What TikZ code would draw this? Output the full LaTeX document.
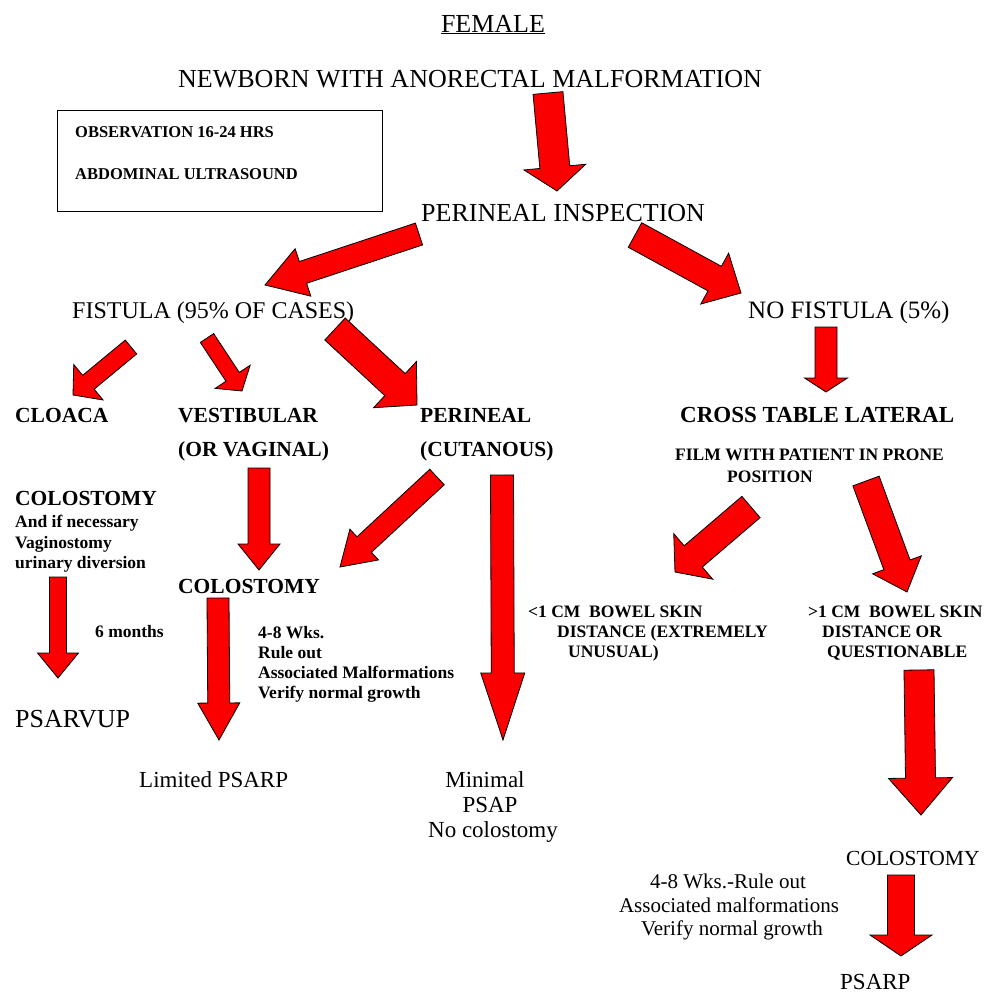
\documentclass[tikz,border=0pt]{standalone}
\usepackage{fontspec}
\setmainfont{Liberation Serif}
\usetikzlibrary{calc}
\definecolor{arrred}{RGB}{250,0,0}
\tikzset{
  barr/.style={fill=arrred, draw=black, line width=0.8pt, line join=miter},
  txt/.style={inner sep=0pt, anchor=base west},
  big/.style={txt, font=\fontsize{26}{30}\selectfont},
  f24/.style={txt, font=\fontsize{24}{28}\selectfont},
  hb/.style={txt, font=\fontsize{21.5}{25}\selectfont\bfseries},
  hbl/.style={txt, font=\fontsize{23}{27}\selectfont\bfseries},
  sb/.style={txt, font=\fontsize{17.5}{20}\selectfont\bfseries},
  boxb/.style={txt, font=\fontsize{16.5}{19}\selectfont\bfseries},
  reg/.style={txt, font=\fontsize{23}{27}\selectfont},
  note/.style={txt, anchor=base, font=\fontsize{21}{24}\selectfont},
  obsbox/.style={draw=black, line width=1pt, inner sep=0pt, anchor=north west,
    minimum width=325pt, minimum height=101pt}
}
\newcommand{\blkarrow}[5]{%
  \coordinate (hb) at ($(#2)!#5!(#1)$);
  \filldraw[barr] ($(#1)!#3!90:(#2)$) -- ($(hb)!#3!90:(#2)$) -- ($(hb)!#4!90:(#2)$)
    -- (#2) -- ($(hb)!#4!-90:(#2)$) -- ($(hb)!#3!-90:(#2)$) -- ($(#1)!#3!-90:(#2)$) -- cycle;
}
\begin{document}
\begin{tikzpicture}[x=1pt,y=-1pt]
\useasboundingbox[fill=white] (0,0) rectangle (989,997);

% texts
\node[big, anchor=base] (female) at (493,32) {\underline{FEMALE}};
\node[big] (newborn) at (178,87) {NEWBORN WITH ANORECTAL MALFORMATION};
\node[obsbox] (box) at (57,110) {};
\node[boxb] (obs) at (75,137) {OBSERVATION 16-24 HRS};
\node[boxb] (abd) at (75,179) {ABDOMINAL ULTRASOUND};
\node[big] (inspect) at (421,221) {PERINEAL INSPECTION};
\node[f24] (fist) at (72,318) {FISTULA (95\% OF CASES)};
\node[txt, font=\fontsize{25}{29}\selectfont] (nofist) at (748,318) {NO FISTULA (5\%)};

\node[hb] (cloaca) at (15,422) {CLOACA};
\node[hb] (vest) at (178,422) {VESTIBULAR};
\node[hb] (vest2) at (178,456) {(OR VAGINAL)};
\node[hb] (per) at (420,422) {PERINEAL};
\node[hb] (per2) at (420,456) {(CUTANOUS)};
\node[hbl] (cross) at (680,422) {CROSS TABLE LATERAL};
\node[sb] (film) at (675,460) {FILM WITH PATIENT IN PRONE};
\node[sb] (pos) at (727,482) {POSITION};

\node[hb] (colL) at (15,505) {COLOSTOMY};
\node[sb] (colL1) at (15,527) {And if necessary};
\node[sb] (colL2) at (15,548) {Vaginostomy};
\node[sb] (colL3) at (15,568) {urinary diversion};
\node[sb] (six) at (95,637) {6 months};
\node[big] (psarvup) at (15,727) {PSARVUP};

\node[hb] (colM) at (178,593) {COLOSTOMY};
\node[sb] (wk1) at (258,638) {4-8 Wks.};
\node[sb] (wk2) at (258,658) {Rule out};
\node[sb] (wk3) at (258,678) {Associated Malformations};
\node[sb] (wk4) at (258,698) {Verify normal growth};
\node[reg] (limited) at (139,787) {Limited PSARP};

\node[reg, anchor=base] (min1) at (485,787) {Minimal};
\node[reg, anchor=base] (min2) at (490,812) {PSAP};
\node[reg, anchor=base] (min3) at (493,837) {No colostomy};

\node[sb] (lt1) at (528,617) {<1 CM\ \ BOWEL SKIN};
\node[sb] (lt2) at (557,637) {DISTANCE (EXTREMELY};
\node[sb] (lt3) at (568,657) {UNUSUAL)};
\node[sb] (gt1) at (808,617) {>1 CM\ \ BOWEL SKIN};
\node[sb] (gt2) at (822,637) {DISTANCE OR};
\node[sb] (gt3) at (827,657) {QUESTIONABLE};

\node[txt, font=\fontsize{21.5}{25}\selectfont] (colR) at (846,865) {COLOSTOMY};
\node[note] (n1) at (728,888) {4-8 Wks.-Rule out};
\node[note] (n2) at (729,912) {Associated malformations};
\node[note] (n3) at (732,935) {Verify normal growth};
\node[reg] (psarp) at (840,989) {PSARP};

% arrow end points
\coordinate (a1t) at (548,93);   \coordinate (a1h) at (557,191);
\coordinate (a2t) at (419,234);  \coordinate (a2h) at (265,285);
\coordinate (a3t) at (635,235);  \coordinate (a3h) at (741,293);
\coordinate (a4t) at (131,347);  \coordinate (a4h) at (73,395);
\coordinate (a5t) at (207,338);  \coordinate (a5h) at (242,391);
\coordinate (a6t) at (335,329);  \coordinate (a6h) at (417,405);
\coordinate (a7t) at (826,327);  \coordinate (a7h) at (826,392);
\coordinate (a8t) at (58,577);   \coordinate (a8h) at (58,678);
\coordinate (a9t) at (259,468);  \coordinate (a9h) at (259,570);
\coordinate (a10t) at (437,477); \coordinate (a10h) at (340,567);
\coordinate (a11t) at (218,598); \coordinate (a11h) at (219,740);
\coordinate (a12t) at (502,475); \coordinate (a12h) at (503,740);
\coordinate (a13t) at (751,507); \coordinate (a13h) at (675,572);
\coordinate (a14t) at (866,481); \coordinate (a14h) at (907,592);
\coordinate (a15t) at (919,670); \coordinate (a15h) at (921,815);
\coordinate (a16t) at (901,875); \coordinate (a16h) at (901,956);

\blkarrow{a1t}{a1h}{15pt}{31pt}{24pt}
\blkarrow{a2t}{a2h}{11.5pt}{25pt}{40pt}
\blkarrow{a3t}{a3h}{14pt}{29pt}{30pt}
\blkarrow{a4t}{a4h}{9pt}{23pt}{20pt}
\blkarrow{a5t}{a5h}{8pt}{21pt}{17pt}
\blkarrow{a6t}{a6h}{15pt}{31.5pt}{30pt}
\blkarrow{a7t}{a7h}{11pt}{21.5pt}{14pt}
\blkarrow{a8t}{a8h}{8.5pt}{20.5pt}{25pt}
\blkarrow{a9t}{a9h}{11pt}{21pt}{26pt}
\blkarrow{a10t}{a10h}{10.6pt}{21pt}{33pt}
\blkarrow{a11t}{a11h}{11pt}{21pt}{37pt}
\blkarrow{a12t}{a12h}{11.5pt}{22pt}{67pt}
\blkarrow{a13t}{a13h}{14pt}{30pt}{24pt}
\blkarrow{a14t}{a14h}{14pt}{26pt}{29pt}
\blkarrow{a15t}{a15h}{15pt}{32pt}{37pt}
\blkarrow{a16t}{a16h}{13.5pt}{31pt}{21pt}
\end{tikzpicture}
\end{document}
